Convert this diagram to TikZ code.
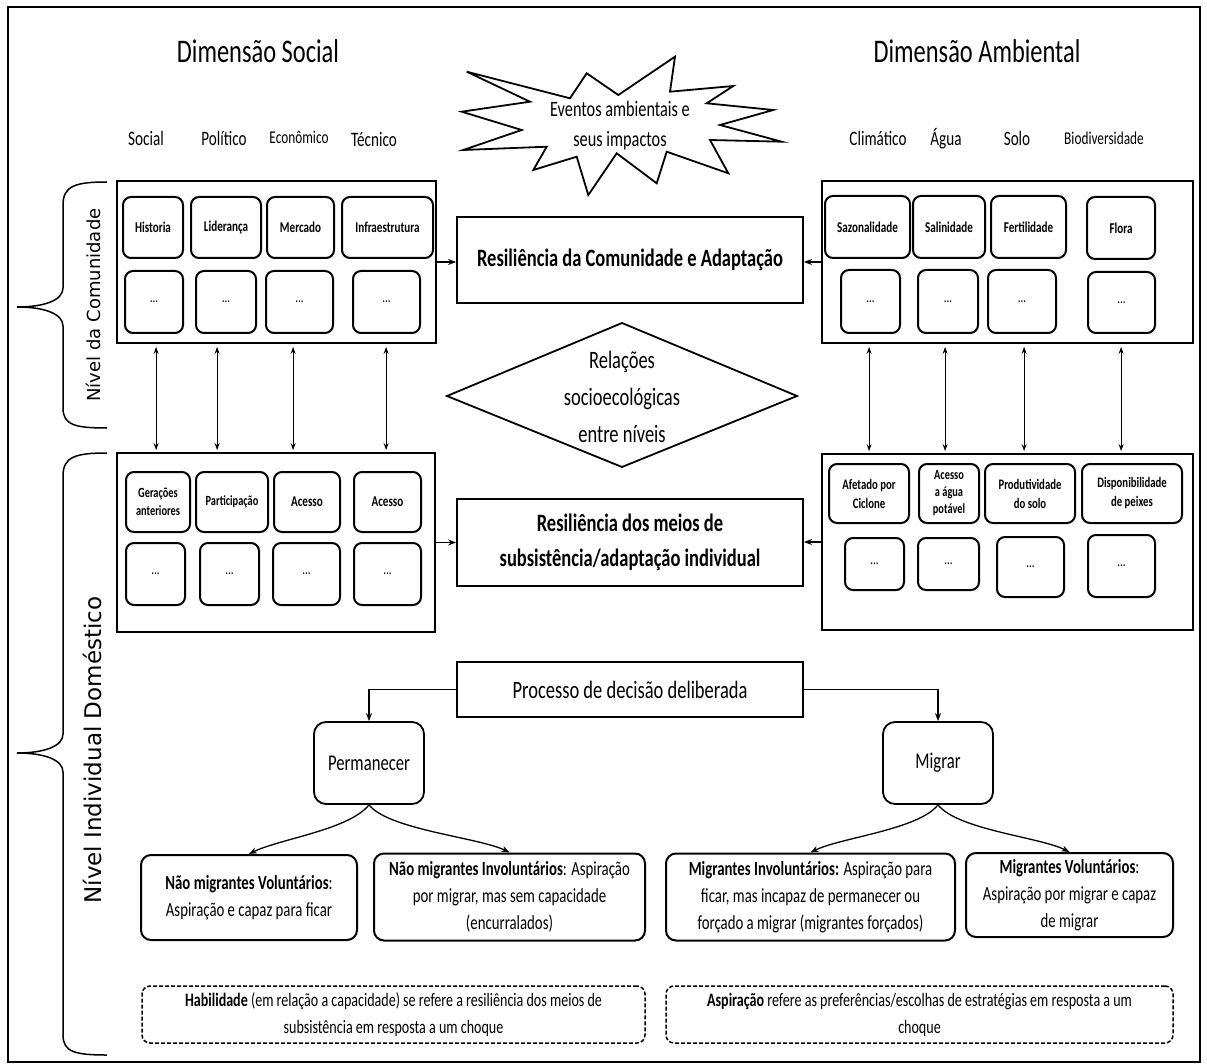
\documentclass[tikz,border=0pt]{standalone}
\usepackage{fontspec}
\setmainfont{Carlito}[FakeStretch=0.74]
\newfontfamily\sidefont{DejaVu Sans}
\usetikzlibrary{arrows.meta}

\newcommand{\fs}[2]{\fontsize{#1}{#2}\selectfont}

\begin{document}
\begin{tikzpicture}[
      x=1pt, y=-1pt,
      sz/.style 2 args={minimum width=#1pt, minimum height=#2pt},
      bigbox/.style={draw, line width=1.8pt, inner sep=0pt},
      cell/.style={draw, rounded corners=8pt, line width=2pt, inner sep=0pt,
        align=center, font=\bfseries\fs{15}{17}},
      dots/.style={cell, font=\fs{15}{17}},
      resbox/.style={draw, line width=1.8pt, inner sep=0pt, align=center,
        font=\bfseries\fs{25}{35}},
      choice/.style={draw, rounded corners=12pt, line width=1.8pt, font=\fs{22.5}{26}},
      outc/.style={draw, rounded corners=10pt, line width=2pt, inner sep=0pt,
        align=center, font=\fs{20}{27}},
      note/.style={draw, rounded corners=8pt, line width=1.5pt, dash pattern=on 4pt off 2pt,
        inner sep=0pt, align=center, font=\fs{19}{27}},
      dim/.style={anchor=base, font=\fs{20.5}{24}},
      dimsm/.style={anchor=base, font=\fs{18}{22}},
      arr/.style={-{Stealth[length=8pt,width=6pt]}, line width=1.3pt},
      dbl/.style={{Stealth[length=7pt,width=5pt]}-{Stealth[length=7pt,width=5pt]}, line width=1.1pt}
    ]
    \useasboundingbox (0,0) rectangle (1207,1064);
    \draw[line width=1.8pt] (8,7) rectangle (1200,1062);

    % Headings
    \node[anchor=base, font=\fs{33}{40}] (tsoc) at (258,63) {Dimensão Social};
    \node[anchor=base, font=\fs{33}{40}] (tamb) at (977,63) {Dimensão Ambiental};

    \node[dim] (hsoc) at (146,146) {Social};
    \node[dim] (hpol) at (224,146) {Político};
    \node[dimsm] (heco) at (299,144) {Econômico};
    \node[dim] (htec) at (374,147) {Técnico};
    \node[dim] (hcli) at (878,146) {Climático};
    \node[dim] (hagu) at (946,146) {Água};
    \node[dim] (hsol) at (1017,146) {Solo};
    \node[dimsm] (hbio) at (1104,145) {Biodiversidade};

    % Events (star) and cross-level relations (diamond)
    \draw[line width=1.8pt] (466.7,71.7) -- (570,98.3) -- (586.7,73.3) -- (618.3,95)
      -- (675,56.7) -- (670,91.7) -- (733.3,86) -- (706.7,103.3) -- (773.3,110)
      -- (720,125) -- (781.7,141.7) -- (710,140) -- (728.3,173.3) -- (666.7,151.7)
      -- (656.7,183.3) -- (616.7,153.3) -- (588.3,195) -- (576.7,156.7) -- (533.3,170)
      -- (546.7,146.7) -- (463.3,150) -- (521.7,130) -- (461.7,111.7) -- (530,101.7) -- cycle;
    \node[align=center, font=\fs{22}{30}] (evt) at (620,126) {Eventos ambientais e\\seus impactos};

    \draw[line width=1.8pt] (447,396) -- (622,323) -- (797,396) -- (622,467) -- cycle;
    \node[align=center, font=\fs{25}{37}] (rel) at (622,397) {Relações\\socioecológicas\\entre níveis};

    % Community level
    \node[bigbox, sz={319}{162}] (socc) at (276.5,262) {};
    \node[bigbox, sz={371}{162}] (envc) at (1007.5,262) {};
    \node[resbox, sz={346}{86}] (rcom) at (630,260) {Resiliência da Comunidade e Adaptação};

    \node[cell, sz={60}{61}] (hist) at (153,227.5) {Historia};
    \node[cell, sz={70}{61}] (lid) at (226,227.5) {Liderança};
    \node[cell, sz={67}{61}] (merc) at (300.5,227.5) {Mercado};
    \node[cell, sz={91}{61}] (infr) at (387.5,227.5) {Infraestrutura};
    \node[dots, sz={58}{62}] (hist2) at (154,302) {...};
    \node[dots, sz={60}{62}] (lid2) at (226,302) {...};
    \node[dots, sz={67}{62}] (merc2) at (299.5,302) {...};
    \node[dots, sz={67}{62}] (infr2) at (386.5,302) {...};

    \node[cell, sz={85}{62}] (saz) at (867.5,227) {Sazonalidade};
    \node[cell, sz={72}{62}] (sal) at (949,227) {Salinidade};
    \node[cell, sz={75}{62}] (fert) at (1028.5,227) {Fertilidade};
    \node[cell, sz={68}{62}] (flor) at (1121,228) {Flora};
    \node[dots, sz={59}{63}] (saz2) at (870.5,301.5) {...};
    \node[dots, sz={60}{63}] (sal2) at (948,301.5) {...};
    \node[dots, sz={68}{63}] (fert2) at (1022,301.5) {...};
    \node[dots, sz={67}{61}] (flor2) at (1121.5,302.5) {...};

    % Household level
    \node[bigbox, sz={318}{179}] (socd) at (276,542.5) {};
    \node[bigbox, sz={371}{176}] (envd) at (1007.5,542) {};
    \node[resbox, sz={346}{87}] (rind) at (630,542.5) {Resiliência dos meios de\\subsistência/adaptação individual};

    \node[cell, sz={64}{60}, font=\bfseries\fs{14}{18}] (ger) at (158,502) {Gerações\\anteriores};
    \node[cell, sz={72}{60}, font=\bfseries\fs{14}{18}] (part) at (232,502) {Participação};
    \node[cell, sz={66}{60}] (ac1) at (307,502) {Acesso};
    \node[cell, sz={67}{60}] (ac2) at (387.5,502) {Acesso};
    \node[dots, sz={59}{62}] (ger2) at (155.5,574) {...};
    \node[dots, sz={59}{62}] (part2) at (229.5,574) {...};
    \node[dots, sz={67}{62}] (ac12) at (306.5,574) {...};
    \node[dots, sz={67}{62}] (ac22) at (387.5,574) {...};

    \node[cell, sz={80}{59}, font=\bfseries\fs{14.5}{19}] (afet) at (869,493.5) {Afetado por\\Ciclone};
    \node[cell, sz={60}{59}, font=\bfseries\fs{14}{17}] (agua) at (949,493.5) {Acesso\\a água\\potável};
    \node[cell, sz={90}{59}, font=\bfseries\fs{14.5}{19}] (prod) at (1030,493.5) {Produtividade\\do solo};
    \node[cell, sz={100}{59}, font=\bfseries\fs{14.5}{19}] (disp) at (1132,493.5) {Disponibilidade\\de peixes};
    \node[dots, sz={59}{52}] (afet2) at (874.5,564) {...};
    \node[dots, sz={61}{52}] (agua2) at (948.5,564) {...};
    \node[dots, sz={67}{60}] (prod2) at (1030.5,567) {...};
    \node[dots, sz={67}{62}] (disp2) at (1121.5,566) {...};

    % Links to the resilience boxes and between levels
    \draw[arr] (socc.east) -- (rcom.west |- socc.east);
    \draw[arr] (envc.west) -- (rcom.east |- envc.west);
    \draw[arr] (socd.east) -- (rind.west |- socd.east);
    \draw[arr] (envd.west) -- (rind.east |- envd.west);
    \foreach \dx in {40,101,177,270}
      \draw[dbl] ([xshift=\dx pt, yshift=-3pt]socc.south west) -- ([xshift=\dx pt, yshift=2pt]socd.north west);
    \foreach \dx in {48,124,203,300}
      \draw[dbl] ([xshift=\dx pt, yshift=-3pt]envc.south west) -- ([xshift=\dx pt, yshift=2pt]envd.north west);

    % Level braces
    \draw[line width=1.5pt] (107,182) .. controls (75,182) and (63,186) .. (63,205) -- (63,288)
      .. controls (63,300) and (45,307) .. (17,307) .. controls (45,307) and (63,314) .. (63,326)
      -- (63,408) .. controls (63,425) and (75,428) .. (107,428);
    \draw[line width=1.5pt] (107,453) .. controls (75,453) and (63,457) .. (63,476) -- (63,734)
      .. controls (63,746) and (45,753) .. (17,753) .. controls (45,753) and (63,760) .. (63,772)
      -- (63,1035) .. controls (63,1052) and (75,1055) .. (107,1055);
    \node[rotate=90, font=\sidefont\fs{18}{20}] (lvlc) at (93,305) {Nível da Comunidade};
    \node[rotate=90, font=\sidefont\fs{23}{26}] (lvli) at (92,750) {Nível Individual Doméstico};

    % Decision
    \node[draw, line width=1.8pt, sz={346}{55}, font=\fs{25}{30}] (dec) at (630,689.5) {Processo de decisão deliberada};
    \node[choice, sz={110}{82}] (perm) at (369,763) {Permanecer};
    \node[choice, sz={110}{82}] (migr) at (938,763) {Migrar};
    \draw[arr] (dec.west) -| (perm.north);
    \draw[arr] (dec.east) -| (migr.north);

    \node[outc, sz={216}{85}] (nmv) at (249,897.5) {\textbf{Não migrantes Voluntários}:\\Aspiração e capaz para ficar};
    \node[outc, sz={271}{87}] (nmi) at (509.5,897) {\textbf{Não migrantes Involuntários}: Aspiração\\por migrar, mas sem capacidade\\(encurralados)};
    \node[outc, sz={289}{87}] (mi) at (810.5,897) {\textbf{Migrantes Involuntários:} Aspiração para\\ficar, mas incapaz de permanecer ou\\forçado a migrar (migrantes forçados)};
    \node[outc, sz={207}{84}] (mv) at (1069.5,895) {\textbf{Migrantes Voluntários}:\\Aspiração por migrar e capaz\\de migrar};

    \draw[arr] (perm.south) .. controls +(-20,25) and +(30,-15) .. (nmv.north);
    \draw[arr] (perm.south) .. controls +(20,25) and +(-30,-15) .. (nmi.north);
    \draw[arr] (migr.south) .. controls +(-20,25) and +(30,-15) .. (mi.north);
    \draw[arr] (migr.south) .. controls +(20,25) and +(-30,-15) .. (mv.north);

    % Definitions
    \node[note, sz={503}{57}] (hab) at (393.5,1014.5) {\textbf{Habilidade} (em relação a capacidade) se refere a resiliência dos meios de\\subsistência em resposta a um choque};
    \node[note, sz={507}{57}] (asp) at (919.5,1014.5) {\textbf{Aspiração} refere as preferências/escolhas de estratégias em resposta a um\\choque};
\end{tikzpicture}
\end{document}
